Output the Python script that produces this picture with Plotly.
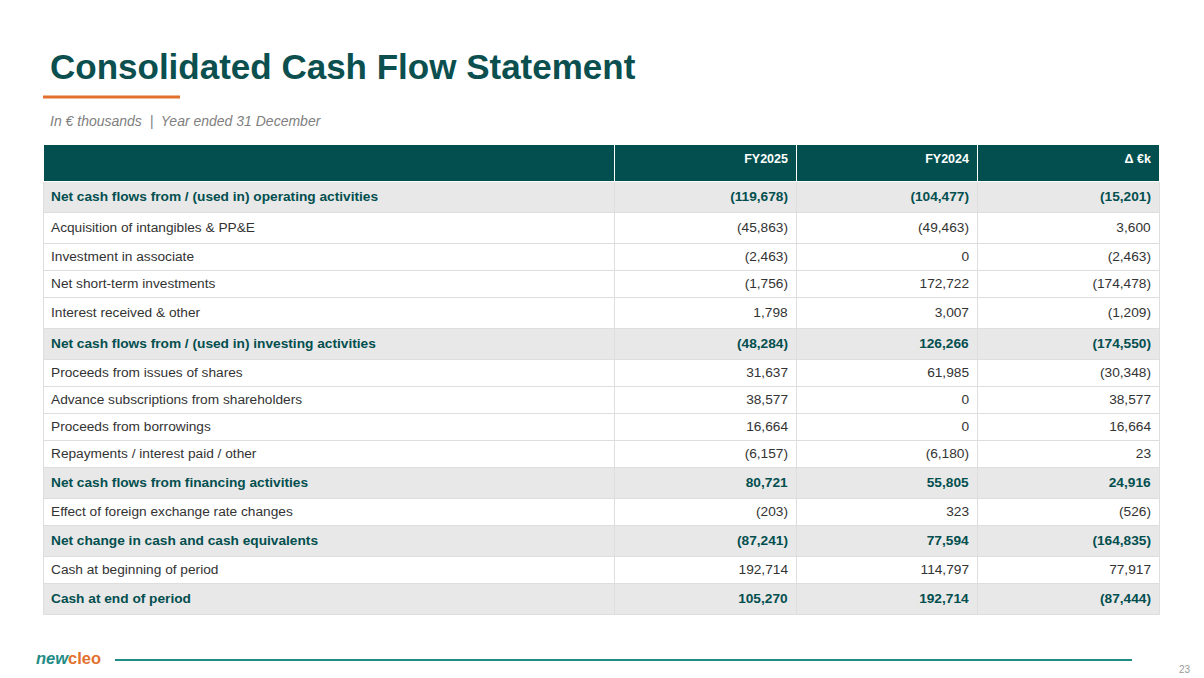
import plotly.graph_objects as go

################################################################################
# Data (in EUR thousands)
################################################################################
row_labels = [
    "Net cash flows from / (used in) operating activities",
    "Acquisition of intangibles &amp; PP&amp;E",
    "Investment in associate",
    "Net short-term investments",
    "Interest received &amp; other",
    "Net cash flows from / (used in) investing activities",
    "Proceeds from issues of shares",
    "Advance subscriptions from shareholders",
    "Proceeds from borrowings",
    "Repayments / interest paid / other",
    "Net cash flows from financing activities",
    "Effect of foreign exchange rate changes",
    "Net change in cash and cash equivalents",
    "Cash at beginning of period",
    "Cash at end of period",
]
fy2025 = [-119678, -45863, -2463, -1756, 1798, -48284, 31637, 38577, 16664, -6157,
          80721, -203, -87241, 192714, 105270]
fy2024 = [-104477, -49463, 0, 172722, 3007, 126266, 61985, 0, 0, -6180,
          55805, 323, 77594, 114797, 192714]
delta = [-15201, 3600, -2463, -174478, -1209, -174550, -30348, 38577, 16664, 23,
         24916, -526, -164835, 77917, -87444]
is_total = [True, False, False, False, False, True, False, False, False, False,
            True, False, True, False, True]
col_headers = ["", "FY2025", "FY2024", "Δ €k"]

################################################################################
# Styling
################################################################################
TEAL_DARK = "#034f4f"
TEAL_LINE = "#1f8c85"
ORANGE = "#e2712f"
FONT = "Liberation Sans, Arial, sans-serif"
OFF = 8                      # page body margin the browser adds
W, H = 1204 - OFF, 678 - OFF


def px(x):
    return (x - OFF) / W


def py(y):
    return 1 - (y - OFF) / H


def fmt(v):
    s = f"{abs(v):,}"
    return f"({s})" if v < 0 else s


# rows with markup get a taller row in plotly tables, so keep every cell of such a
# row marked up (keeps the text on one baseline) and shrink the plain rows a bit
rich = [b or "&" in lab for b, lab in zip(is_total, row_labels)]


def style(texts):
    out = []
    for t, b, r in zip(texts, is_total, rich):
        if b:
            out.append(f"<b>{t}</b>")
        elif r:
            out.append(f"<span>{t}</span>")
        else:
            out.append(t)
    return out


cols = [style(row_labels)] + [style([fmt(v) for v in c]) for c in (fy2025, fy2024, delta)]
fills = ["#e8e8e8" if b else "white" for b in is_total]
fcols = [TEAL_DARK if b else "#333333" for b in is_total]

fig = go.Figure(go.Table(
    domain=dict(x=[px(43), px(1159)], y=[0, py(144)]),
    columnwidth=[571, 182, 181, 182],
    header=dict(
        values=[f"<b>{h}</b>" for h in col_headers],
        fill_color=TEAL_DARK,
        line=dict(color="white", width=1),
        align=["left", "right", "right", "right"],
        font=dict(family=FONT, size=12.5, color="white"),
        height=37,
    ),
    cells=dict(
        values=cols,
        fill_color=[fills] * 4,
        line=dict(color="#dedede", width=1),
        align=["left", "right", "right", "right"],
        font=dict(family=FONT, size=13.7, color=[fcols] * 4),
        height=27,
    ),
))

# title block
fig.add_annotation(text="<b>Consolidated Cash Flow Statement</b>", x=px(48), y=py(66),
                   xref="paper", yref="paper", xanchor="left", yanchor="middle",
                   showarrow=False, font=dict(family=FONT, size=35, color="#0b4f4f"))
fig.add_shape(type="line", xref="paper", yref="paper", x0=px(43), x1=px(180),
              y0=py(97), y1=py(97), line=dict(color=ORANGE, width=3))
fig.add_annotation(text="<i>In € thousands  |  Year ended 31 December</i>", x=px(48), y=py(121),
                   xref="paper", yref="paper", xanchor="left", yanchor="middle",
                   showarrow=False, font=dict(family=FONT, size=14, color="#808080"))

# footer
fig.add_annotation(
    text=f"<b><i><span style='color:{TEAL_LINE}'>new</span></i><span style='color:{ORANGE}'>cleo</span></b>",
    x=px(34), y=py(658), xref="paper", yref="paper", xanchor="left", yanchor="middle",
    showarrow=False, font=dict(family=FONT, size=16.5))
fig.add_shape(type="line", xref="paper", yref="paper", x0=px(115), x1=px(1132),
              y0=py(660), y1=py(660), line=dict(color=TEAL_LINE, width=2))
fig.add_annotation(text="23", x=px(1185), y=py(669), xref="paper", yref="paper",
                   xanchor="center", yanchor="middle", showarrow=False,
                   font=dict(family=FONT, size=10, color="#999999"))

fig.update_layout(width=W, height=H, margin=dict(l=0, r=0, t=0, b=0),
                  paper_bgcolor="white", plot_bgcolor="white")
fig.write_html("out.html")
